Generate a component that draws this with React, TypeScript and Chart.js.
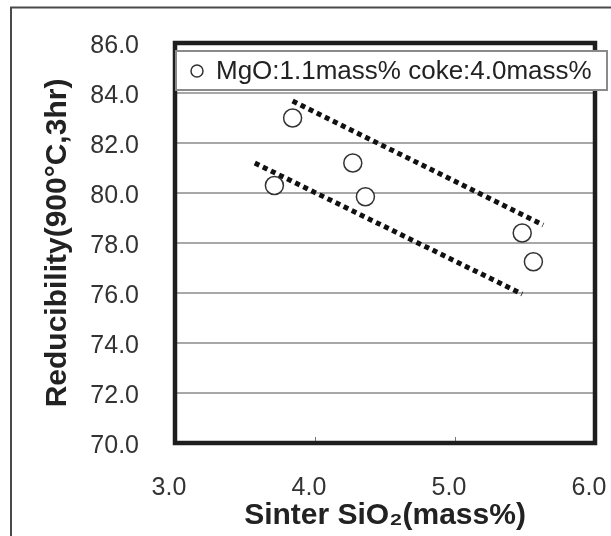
import React, { useEffect, useRef } from "react";
import { Chart, registerables } from "chart.js";

Chart.register(...registerables);

// Measured samples: sinter SiO2 (mass%) vs. reducibility (900°C, 3 hr)
const sinterSiO2 = [3.84, 3.71, 4.27, 4.36, 5.48, 5.56];
const reducibility = [83.0, 80.3, 81.2, 79.85, 78.4, 77.25];

// Hand-drawn guide bands (dotted)
const upperTrendX = [3.84, 5.63];
const upperTrendY = [83.68, 78.72];
const lowerTrendX = [3.57, 5.48];
const lowerTrendY = [81.2, 75.96];

const xTicks = [3.0, 4.0, 5.0, 6.0];
const yTicks = [70, 72, 74, 76, 78, 80, 82, 84, 86];

const seriesLabel = "MgO:1.1mass% coke:4.0mass%";
const xTitle = "Sinter SiO\u2082(mass%)";
const yTitle = "Reducibility(900\u00B0C,3hr)";

const FONT = "'Liberation Sans', Arial, sans-serif";

const noOverhang = (s: any) => {
  s.paddingTop = 0;
  s.paddingBottom = 0;
  s.paddingLeft = 0;
  s.paddingRight = 0;
};

const decorPlugin = {
  id: "decor",
  afterDraw(chart: any) {
    const { ctx, chartArea, scales } = chart;
    const { left, right, top, bottom } = chartArea;
    ctx.save();

    // small inward tick marks on the bottom axis
    ctx.strokeStyle = "#777";
    ctx.lineWidth = 1;
    for (const v of xTicks.slice(1, -1)) {
      const px = Math.round(scales.x.getPixelForValue(v)) + 0.5;
      ctx.beginPath();
      ctx.moveTo(px, bottom);
      ctx.lineTo(px, bottom - 6);
      ctx.stroke();
    }

    // heavy plot frame
    ctx.strokeStyle = "#1e1e1e";
    ctx.lineWidth = 4.5;
    ctx.strokeRect(left, top, right - left, bottom - top);

    // legend box, overlapping the top of the plot
    const bx = left + 1;
    const by = 51;
    const bw = 607 - bx;
    const bh = 39;
    ctx.fillStyle = "#ffffff";
    ctx.fillRect(bx, by, bw, bh);
    ctx.strokeStyle = "#8a8a8a";
    ctx.lineWidth = 2;
    ctx.strokeRect(bx, by, bw, bh);

    ctx.beginPath();
    ctx.arc(197, 71, 6, 0, Math.PI * 2);
    ctx.strokeStyle = "#333";
    ctx.lineWidth = 1.5;
    ctx.stroke();

    ctx.fillStyle = "#222";
    ctx.font = `26px ${FONT}`;
    ctx.textAlign = "left";
    ctx.textBaseline = "middle";
    ctx.fillText(chart.data.datasets[0].label, 216, 72);

    // outer figure frame
    ctx.strokeStyle = "#4a4a4a";
    ctx.lineWidth = 2;
    ctx.beginPath();
    ctx.moveTo(11, 536);
    ctx.lineTo(11, 7.5);
    ctx.lineTo(611, 7.5);
    ctx.stroke();

    ctx.restore();
  },
};

export default function App() {
  const canvasRef = useRef<HTMLCanvasElement | null>(null);

  useEffect(() => {
    const canvas = canvasRef.current;
    if (!canvas) return;

    const chart = new Chart(canvas, {
      type: "scatter",
      data: {
        datasets: [
          {
            label: seriesLabel,
            data: sinterSiO2.map((x, i) => ({ x, y: reducibility[i] })),
            pointRadius: 9,
            pointBorderWidth: 1.5,
            borderColor: "#333",
            backgroundColor: "#ffffff",
            order: 2,
          },
          {
            type: "line",
            label: "upper",
            data: upperTrendX.map((x, i) => ({ x, y: upperTrendY[i] })),
            borderColor: "#111",
            borderWidth: 5,
            borderDash: [5, 4],
            pointRadius: 0,
            fill: false,
            order: 1,
          },
          {
            type: "line",
            label: "lower",
            data: lowerTrendX.map((x, i) => ({ x, y: lowerTrendY[i] })),
            borderColor: "#111",
            borderWidth: 5,
            borderDash: [5, 4],
            pointRadius: 0,
            fill: false,
            order: 1,
          },
        ],
      },
      options: {
        responsive: false,
        animation: false,
        layout: { padding: { top: 43, right: 16, left: 0, bottom: 0 } },
        plugins: {
          legend: { display: false },
          tooltip: { enabled: false },
        },
        scales: {
          x: {
            type: "linear",
            min: 3,
            max: 6,
            afterFit: (s: any) => {
              s.height = 93;
              noOverhang(s);
            },
            afterBuildTicks: (s: any) => {
              s.ticks = xTicks.map((v) => ({ value: v }));
            },
            grid: { display: false, drawTicks: false },
            border: { display: false },
            ticks: {
              padding: 30,
              labelOffset: -6,
              color: "#333",
              font: { family: FONT, size: 25 },
              callback: (v: any) => Number(v).toFixed(1),
            },
            title: {
              display: true,
              text: xTitle,
              color: "#222",
              font: { family: FONT, size: 30, weight: "bold" },
              padding: { top: 0, bottom: 2 },
            },
          },
          y: {
            type: "linear",
            min: 70,
            max: 86,
            afterFit: (s: any) => {
              s.width = 175;
              noOverhang(s);
            },
            afterBuildTicks: (s: any) => {
              s.ticks = yTicks.map((v) => ({ value: v }));
            },
            grid: { color: "#a8a8a8", lineWidth: 2, drawTicks: false },
            border: { display: false },
            ticks: {
              padding: 36,
              labelOffset: 3,
              color: "#333",
              font: { family: FONT, size: 25 },
              callback: (v: any) => Number(v).toFixed(1),
            },
            title: {
              display: true,
              text: yTitle,
              color: "#222",
              font: { family: FONT, size: 30, weight: "bold" },
              padding: { top: 40, bottom: 0 },
            },
          },
        },
      },
      plugins: [decorPlugin],
    } as any);

    return () => chart.destroy();
  }, []);

  return (
    <div style={{ position: "fixed", left: 0, top: 0, width: 611, height: 536, background: "#fff" }}>
      <canvas ref={canvasRef} width={611} height={536} style={{ display: "block" }} />
    </div>
  );
}
